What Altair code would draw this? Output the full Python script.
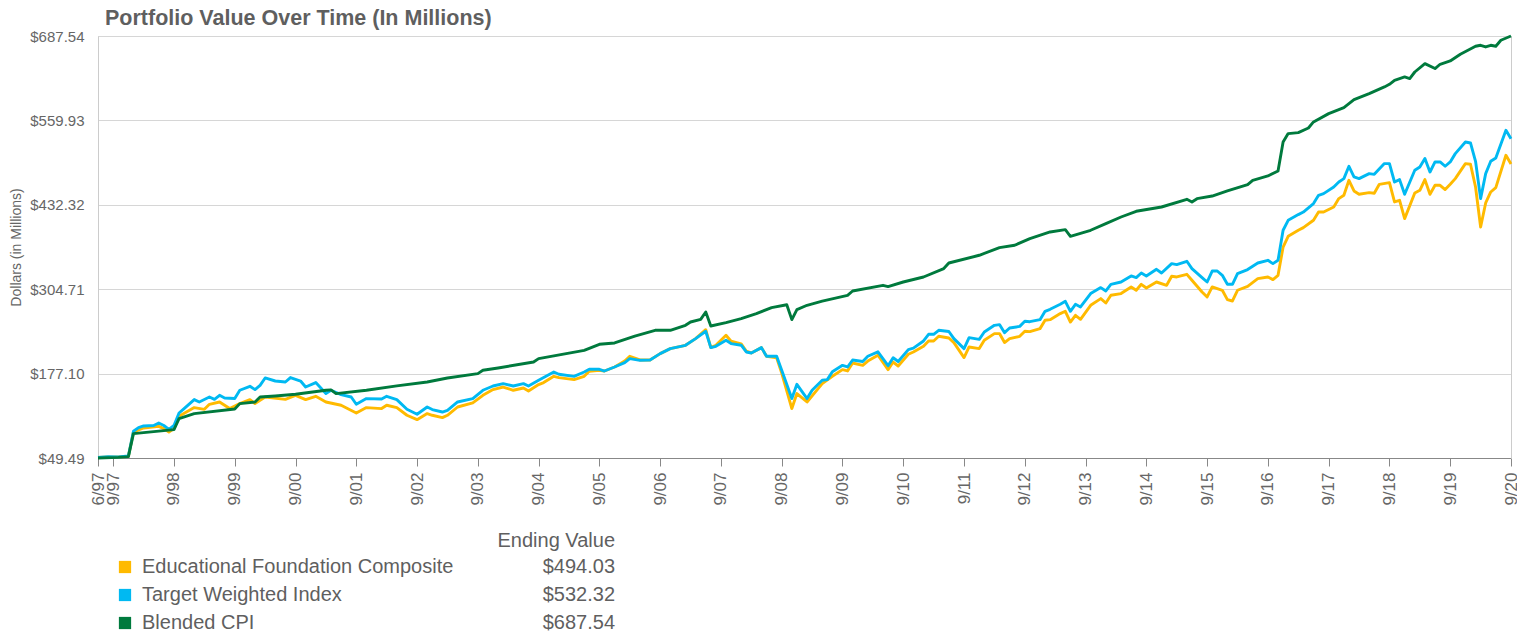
import altair as alt
import pandas as pd

# ---------------- data (month index 0 = 6/97) ----------------
cpi_months = [0, 4, 6, 7, 15, 16, 19, 27, 28, 31, 32, 35, 39, 45, 46, 47, 53, 59, 65, 69,
              75, 76, 79, 86, 87, 96, 99, 102, 106, 110, 113, 116, 117, 119, 120, 121, 124,
              127, 130, 133, 136, 137, 138, 140, 143, 148, 149, 155, 156, 159, 163, 167,
              168, 174, 178, 181, 184, 188, 191, 192, 196, 199, 202, 205, 210, 215, 216,
              217, 220, 223, 227, 228, 231, 233, 234, 235, 237, 239, 240, 243, 246, 248,
              251, 254, 255, 256, 258, 259, 260, 262, 264, 265, 267, 269, 272, 273, 274,
              275, 276, 277, 279]
cpi_values = [49.49, 50.5, 51.5, 86.4, 92.4, 109.1, 116.6, 123.5, 131.7, 134.2, 141.7, 143.2,
              145.8, 151.9, 152.5, 146.9, 151.9, 158.5, 164.4, 170.5, 177.1, 182.1, 185.6,
              194.6, 199.8, 212.3, 221.4, 223.4, 233.9, 242.6, 242.6, 250.1, 255.1, 259.2,
              270.2, 249.1, 254.2, 260.3, 267.8, 276.9, 281.2, 258.7, 273.9, 280.4, 286.6,
              295.5, 302.0, 310.6, 308.6, 315.6, 323.2, 335.9, 344.3, 356.0, 367.6, 371.1,
              381.2, 391.2, 394.8, 384.7, 393.8, 403.9, 413.9, 422.5, 429.0, 440.6, 436.6,
              441.6, 445.6, 453.2, 462.9, 469.4, 475.9, 483.4, 527.3, 540.0, 541.5, 548.5,
              557.6, 570.2, 579.3, 591.4, 600.5, 610.5, 614.5, 620.6, 625.6, 623.2, 633.1,
              645.8, 638.3, 644.8, 649.8, 659.9, 672.0, 673.5, 671.0, 673.5, 672.0, 681.1,
              687.54]

twi_months = [0, 2, 4, 6, 7, 8, 9, 11, 12, 13, 14, 15, 16, 17, 19, 20, 22, 23, 24, 25, 27,
              28, 30, 31, 32, 33, 35, 37, 38, 40, 41, 43, 45, 46, 48, 50, 51, 53, 56, 57,
              59, 61, 63, 65, 66, 68, 69, 71, 74, 76, 78, 80, 82, 84, 85, 87, 88, 90, 91,
              94, 96, 97, 99, 100, 102, 104, 105, 107, 109, 111, 113, 116, 118, 120, 121,
              122, 124, 125, 127, 128, 129, 131, 132, 134, 135, 137, 138, 140, 141, 143,
              144, 145, 147, 148, 149, 151, 152, 154, 156, 157, 158, 160, 161, 163, 164,
              165, 166, 168, 169, 171, 172, 174, 175, 177, 178, 179, 180, 182, 183, 184,
              186, 187, 188, 190, 191, 192, 193, 194, 196, 198, 199, 200, 202, 204, 205,
              206, 207, 209, 210, 212, 213, 215, 216, 218, 219, 220, 221, 222, 223, 224,
              225, 227, 229, 231, 232, 233, 234, 235, 237, 238, 240, 241, 242, 244, 245,
              246, 247, 248, 249, 251, 252, 254, 255, 256, 257, 258, 260, 261, 262, 263,
              264, 265, 266, 267, 268, 270, 271, 272, 273, 274, 275, 276, 278, 279]
twi_values = [50.5, 51.5, 51.0, 52.5, 89.9, 95.5, 97.9, 98.6, 102.4, 98.6, 92.9, 98.6, 117.5,
              124.2, 137.8, 134.2, 141.7, 138.2, 144.3, 140.2, 139.4, 151.9, 157.9, 152.9,
              159.4, 170.5, 165.9, 164.4, 171.1, 165.9, 156.8, 163.5, 146.9, 151.9, 145.4,
              141.7, 130.7, 139.3, 138.7, 142.8, 137.8, 123.1, 115.6, 126.6, 122.7, 119.0,
              121.6, 134.2, 139.3, 151.9, 158.4, 162.0, 158.4, 162.0, 158.4, 167.0, 171.1,
              179.5, 176.1, 173.0, 179.5, 183.6, 183.6, 181.0, 187.1, 193.7, 199.8, 197.2,
              197.7, 207.3, 214.9, 219.9, 230.0, 241.1, 216.4, 218.4, 227.5, 222.5, 220.0,
              209.8, 208.3, 216.4, 203.3, 203.3, 182.1, 139.3, 160.9, 139.3, 151.9, 167.0,
              168.0, 180.0, 189.6, 187.1, 197.7, 195.4, 203.3, 210.0, 189.0, 201.0, 195.4,
              213.4, 215.6, 226.4, 236.5, 236.5, 242.6, 240.8, 230.0, 214.9, 231.5, 228.9,
              240.0, 250.1, 251.2, 239.0, 246.0, 248.5, 256.2, 255.6, 258.7, 271.3, 274.3,
              281.9, 286.4, 271.3, 281.9, 277.8, 298.1, 307.1, 302.0, 312.1, 315.6, 324.7,
              322.2, 329.2, 324.7, 334.8, 329.2, 343.4, 341.9, 346.9, 335.9, 322.2, 315.6,
              332.2, 332.2, 325.7, 312.1, 312.1, 328.3, 334.4, 344.3, 348.4, 343.4, 348.4,
              393.8, 408.9, 417.5, 421.4, 434.2, 446.7, 449.2, 459.2, 466.8, 471.9, 490.5,
              474.4, 471.9, 479.5, 478.4, 494.6, 494.6, 466.8, 470.4, 448.2, 484.5, 489.5,
              502.2, 481.9, 497.1, 497.1, 490.6, 497.1, 509.7, 527.3, 525.8, 498.1, 441.7,
              479.5, 498.1, 503.1, 545.0, 532.32]

edu_months = [0, 2, 4, 6, 7, 9, 12, 13, 14, 15, 16, 19, 21, 22, 24, 26, 28, 30, 31, 33, 37,
              39, 41, 43, 45, 48, 51, 53, 56, 57, 59, 61, 63, 65, 66, 68, 69, 71, 74, 76,
              78, 80, 82, 84, 85, 87, 88, 90, 91, 94, 96, 97, 99, 100, 102, 104, 105, 107,
              109, 111, 113, 116, 118, 120, 121, 122, 124, 125, 127, 128, 129, 131, 132,
              134, 135, 137, 138, 140, 143, 145, 147, 148, 149, 151, 152, 154, 156, 157,
              158, 160, 161, 163, 164, 165, 166, 168, 169, 171, 172, 174, 175, 177, 178,
              179, 180, 182, 183, 184, 186, 187, 188, 190, 191, 192, 193, 194, 196, 198,
              199, 200, 202, 204, 205, 206, 207, 209, 211, 212, 213, 215, 216, 218, 219,
              220, 222, 223, 224, 225, 227, 229, 231, 232, 233, 234, 235, 237, 238, 240,
              241, 242, 244, 245, 246, 247, 248, 249, 251, 252, 253, 255, 256, 257, 258,
              260, 261, 262, 263, 264, 265, 266, 267, 268, 270, 271, 272, 273, 274, 275,
              276, 278, 279]
edu_values = [50.5, 51.0, 51.0, 52.0, 89.0, 94.9, 97.4, 93.9, 88.8, 93.9, 112.5, 125.7,
              123.1, 130.7, 134.2, 124.2, 131.7, 137.8, 131.7, 141.7, 138.2, 144.3, 137.8,
              142.8, 134.2, 129.2, 117.5, 125.7, 124.2, 129.2, 125.7, 114.1, 107.5, 116.6,
              114.1, 110.6, 114.1, 126.6, 132.7, 144.3, 152.9, 156.8, 151.9, 155.3, 150.8,
              160.5, 163.5, 173.0, 171.1, 168.0, 173.0, 180.6, 182.1, 181.0, 187.1, 196.2,
              203.3, 197.7, 197.7, 207.3, 214.9, 219.9, 230.0, 243.5, 216.4, 220.0, 235.0,
              226.0, 222.0, 211.0, 208.3, 216.4, 203.3, 201.0, 178.0, 124.2, 146.9, 134.2,
              162.0, 173.0, 183.1, 181.1, 193.1, 189.6, 196.0, 204.8, 183.1, 194.6, 188.6,
              206.3, 209.8, 218.4, 226.4, 226.4, 233.5, 231.0, 223.9, 201.3, 217.4, 214.9,
              227.5, 237.6, 237.6, 224.0, 230.0, 233.5, 241.1, 240.6, 245.1, 257.7, 258.7,
              267.8, 271.3, 255.1, 265.3, 259.2, 280.4, 290.5, 283.8, 295.5, 298.1, 308.1,
              303.1, 312.1, 306.5, 315.6, 310.6, 324.2, 323.2, 327.2, 318.2, 300.5, 293.0,
              308.1, 303.1, 289.0, 286.9, 303.1, 309.1, 320.7, 323.2, 319.2, 325.7, 368.5,
              384.7, 393.8, 397.8, 408.9, 421.4, 421.4, 429.0, 441.7, 446.7, 469.4, 453.2,
              448.2, 450.8, 449.7, 463.3, 465.9, 436.6, 439.1, 411.4, 450.2, 454.2, 470.4,
              448.2, 461.8, 461.8, 455.3, 463.3, 471.9, 494.6, 493.6, 459.2, 398.8, 435.1,
              451.7, 458.3, 507.2, 494.03]

series_names = ["Educational Foundation Composite", "Target Weighted Index", "Blended CPI"]
series_colors = ["#FFBA00", "#00B9F2", "#007A3D"]
ending_values = ["$494.03", "$532.32", "$687.54"]

tick_positions = [0, 3, 15, 27, 39, 51, 63, 75, 87, 99, 111, 123, 135, 147, 159, 171, 183,
                  195, 207, 219, 231, 243, 255, 267, 279]
tick_labels = ["6/97", "9/97", "9/98", "9/99", "9/00", "9/01", "9/02", "9/03", "9/04",
               "9/05", "9/06", "9/07", "9/08", "9/09", "9/10", "9/11", "9/12", "9/13",
               "9/14", "9/15", "9/16", "9/17", "9/18", "9/19", "9/20"]
y_ticks = [49.49, 177.10, 304.71, 432.32, 559.93, 687.54]
chart_title = "Portfolio Value Over Time (In Millions)"

# ---------------- chart ----------------
FONT = "Liberation Sans"
W, H = 1413, 422

label_expr = ("[" + ",".join("'%s'" % t for t in tick_labels) + "][indexof(["
              + ",".join(str(p) for p in tick_positions) + "], datum.value)]")

x_enc = alt.X("m:Q", scale=alt.Scale(domain=[0, 279], nice=False, zero=False),
              axis=alt.Axis(values=tick_positions, labelExpr=label_expr, labelAngle=270,
                            labelOverlap=False, labelFlush=False, labelBound=False,
                            grid=False, title=None,
                            tickSize=8, tickColor="#888888", domainColor="#888888",
                            labelFontSize=17, labelColor="#666666", labelPadding=6,
                            labelFont=FONT))
y_enc = alt.Y("v:Q", scale=alt.Scale(domain=[49.49, 687.54], nice=False, zero=False),
              axis=alt.Axis(values=y_ticks, format="$.2f", title="Dollars (in Millions)",
                            titleFontSize=14, titleFontWeight="normal", titleColor="#666666",
                            titlePadding=6, titleFont=FONT, ticks=False, labelPadding=14,
                            labelFontSize=15, labelColor="#666666", labelFont=FONT,
                            domainColor="#cccccc", gridColor="#d6d6d6", grid=True))


def line_layer(months, values, color):
    df = pd.DataFrame({"m": months, "v": values})
    return alt.Chart(df).mark_line(color=color, strokeWidth=2.9, strokeJoin="round").encode(
        x=x_enc, y=y_enc)


lines = [line_layer(edu_months, edu_values, series_colors[0]),
         line_layer(twi_months, twi_values, series_colors[1]),
         line_layer(cpi_months, cpi_values, series_colors[2])]

leg_df = pd.DataFrame({"row": [0, 1, 2], "name": series_names, "color": series_colors,
                       "val": ending_values})
leg_y = alt.Y("row:Q", scale=alt.Scale(domain=[0, 2], range=[531, 587]), axis=None)

leg_sq = alt.Chart(leg_df).mark_square(size=150, opacity=1, filled=True).encode(
    x=alt.value(27), y=leg_y,
    color=alt.Color("color:N", scale=None))
leg_name = alt.Chart(leg_df).mark_text(align="left", baseline="middle", fontSize=20,
                                       font=FONT, color="#5f5f5f").encode(
    x=alt.value(44), y=leg_y, text="name:N")
leg_val = alt.Chart(leg_df).mark_text(align="right", baseline="middle", fontSize=20,
                                      font=FONT, color="#5f5f5f").encode(
    x=alt.value(517), y=leg_y, text="val:N")
leg_head = alt.Chart(pd.DataFrame({"t": ["Ending Value"]})).mark_text(
    align="right", baseline="middle", fontSize=20, font=FONT, color="#5f5f5f").encode(
    x=alt.value(517), y=alt.value(505), text="t:N")
title_mark = alt.Chart(pd.DataFrame({"t": [chart_title]})).mark_text(
    align="left", baseline="alphabetic", fontSize=21.5, fontWeight="bold", font=FONT,
    color="#5f5f5f").encode(x=alt.value(7), y=alt.value(-11), text="t:N")

chart = alt.layer(*lines, leg_sq, leg_name, leg_val, leg_head, title_mark).resolve_scale(
    y="independent").properties(
    width=W, height=H,
    autosize=alt.AutoSizeParams(type="none"),
    padding={"left": 90, "top": 28, "right": 6, "bottom": 175},
).configure_view(stroke=None).configure(font=FONT)

chart.save("out.html", embed_options={"renderer": "svg", "actions": False})
